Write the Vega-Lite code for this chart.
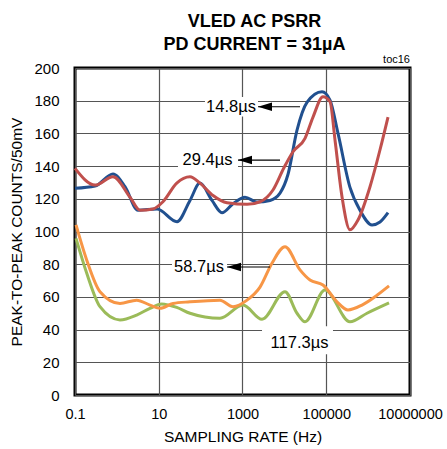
{
  "$schema": "https://vega.github.io/schema/vega-lite/v6.json",
  "width": 335,
  "height": 327,
  "autosize": {"type": "none"},
  "padding": {"left": 75, "top": 68, "right": 37, "bottom": 54},
  "background": "white",
  "config": {
    "view": {"stroke": "black", "strokeWidth": 3},
    "font": "Liberation Sans, Arial, sans-serif"
  },
  "title": {
    "text": ["VLED AC PSRR", "PD CURRENT = 31µA"],
    "fontSize": 18,
    "font": "Liberation Sans, Arial, sans-serif",
    "fontWeight": "bold",
    "color": "black",
    "anchor": "middle",
    "dx": 12,
    "offset": 0,
    "lineHeight": 23
  },
  "datasets": {
    "curves": [
      {"series": "14.8µs", "x": 0.1, "y": 126.4},
      {"series": "14.8µs", "x": 0.301, "y": 127.8},
      {"series": "14.8µs", "x": 0.808, "y": 135.2},
      {"series": "14.8µs", "x": 1.563, "y": 127.4},
      {"series": "14.8µs", "x": 3.19, "y": 113},
      {"series": "14.8µs", "x": 9.08, "y": 113.8},
      {"series": "14.8µs", "x": 27.3, "y": 106},
      {"series": "14.8µs", "x": 55.7, "y": 119},
      {"series": "14.8µs", "x": 96.6, "y": 129.6},
      {"series": "14.8µs", "x": 187, "y": 119},
      {"series": "14.8µs", "x": 324, "y": 111.5},
      {"series": "14.8µs", "x": 593, "y": 117},
      {"series": "14.8µs", "x": 1148, "y": 121},
      {"series": "14.8µs", "x": 2218, "y": 118},
      {"series": "14.8µs", "x": 4539, "y": 119},
      {"series": "14.8µs", "x": 7870, "y": 123.5},
      {"series": "14.8µs", "x": 12220, "y": 135},
      {"series": "14.8µs", "x": 20040, "y": 162},
      {"series": "14.8µs", "x": 34670, "y": 179},
      {"series": "14.8µs", "x": 79250, "y": 185.5},
      {"series": "14.8µs", "x": 123000, "y": 180.4},
      {"series": "14.8µs", "x": 191000, "y": 160},
      {"series": "14.8µs", "x": 368900, "y": 127},
      {"series": "14.8µs", "x": 639700, "y": 113},
      {"series": "14.8µs", "x": 1239000, "y": 104},
      {"series": "14.8µs", "x": 1923000, "y": 105.8},
      {"series": "14.8µs", "x": 2985000, "y": 111.5},

      {"series": "29.4µs", "x": 0.1, "y": 138.6},
      {"series": "29.4µs", "x": 0.301, "y": 128.4},
      {"series": "29.4µs", "x": 0.808, "y": 133.5},
      {"series": "29.4µs", "x": 2.056, "y": 121},
      {"series": "29.4µs", "x": 3.56, "y": 113},
      {"series": "29.4µs", "x": 7.29, "y": 113.8},
      {"series": "29.4µs", "x": 12.6, "y": 118.2},
      {"series": "29.4µs", "x": 26.9, "y": 129.6},
      {"series": "29.4µs", "x": 55.7, "y": 133.5},
      {"series": "29.4µs", "x": 96.6, "y": 129.6},
      {"series": "29.4µs", "x": 198, "y": 122},
      {"series": "29.4µs", "x": 427, "y": 117.6},
      {"series": "29.4µs", "x": 1282, "y": 116.6},
      {"series": "29.4µs", "x": 2618, "y": 118.2},
      {"series": "29.4µs", "x": 5346, "y": 125.4},
      {"series": "29.4µs", "x": 9770, "y": 139},
      {"series": "29.4µs", "x": 16070, "y": 148.8},
      {"series": "29.4µs", "x": 31120, "y": 157},
      {"series": "29.4µs", "x": 48310, "y": 170},
      {"series": "29.4µs", "x": 83560, "y": 182.4},
      {"series": "29.4µs", "x": 123000, "y": 179.4},
      {"series": "29.4µs", "x": 161800, "y": 156},
      {"series": "29.4µs", "x": 237700, "y": 121.3},
      {"series": "29.4µs", "x": 368900, "y": 101},
      {"series": "29.4µs", "x": 572800, "y": 107},
      {"series": "29.4µs", "x": 1109000, "y": 127.4},
      {"series": "29.4µs", "x": 1923000, "y": 150},
      {"series": "29.4µs", "x": 2985000, "y": 170},

      {"series": "117.3µs", "x": 0.1057, "y": 95.8},
      {"series": "117.3µs", "x": 0.19, "y": 74.6},
      {"series": "117.3µs", "x": 0.395, "y": 54},
      {"series": "117.3µs", "x": 1.187, "y": 45.9},
      {"series": "117.3µs", "x": 2.97, "y": 48.9},
      {"series": "117.3µs", "x": 6.18, "y": 53},
      {"series": "117.3µs", "x": 11.7, "y": 55.7},
      {"series": "117.3µs", "x": 26.9, "y": 53.6},
      {"series": "117.3µs", "x": 55.7, "y": 50},
      {"series": "117.3µs", "x": 290, "y": 46.9},
      {"series": "117.3µs", "x": 1028, "y": 55},
      {"series": "117.3µs", "x": 2924, "y": 46.3},
      {"series": "117.3µs", "x": 10350, "y": 63.2},
      {"series": "117.3µs", "x": 20040, "y": 50},
      {"series": "117.3µs", "x": 31120, "y": 44.8},
      {"series": "117.3µs", "x": 93330, "y": 64.2},
      {"series": "117.3µs", "x": 368900, "y": 44.8},
      {"series": "117.3µs", "x": 939700, "y": 50},
      {"series": "117.3µs", "x": 3155000, "y": 56.3},

      {"series": "58.7µs", "x": 0.1057, "y": 104},
      {"series": "58.7µs", "x": 0.19, "y": 82.6},
      {"series": "58.7µs", "x": 0.395, "y": 63.2},
      {"series": "58.7µs", "x": 1.187, "y": 56},
      {"series": "58.7µs", "x": 2.97, "y": 58},
      {"series": "58.7µs", "x": 6.18, "y": 55},
      {"series": "58.7µs", "x": 10.7, "y": 53},
      {"series": "58.7µs", "x": 21.9, "y": 56},
      {"series": "58.7µs", "x": 55.7, "y": 57},
      {"series": "58.7µs", "x": 290, "y": 58},
      {"series": "58.7µs", "x": 593, "y": 54},
      {"series": "58.7µs", "x": 1282, "y": 58},
      {"series": "58.7µs", "x": 2618, "y": 66},
      {"series": "58.7µs", "x": 5058, "y": 80.6},
      {"series": "58.7µs", "x": 10350, "y": 90.7},
      {"series": "58.7µs", "x": 23600, "y": 76.5},
      {"series": "58.7µs", "x": 40930, "y": 70.3},
      {"series": "58.7µs", "x": 83560, "y": 67.3},
      {"series": "58.7µs", "x": 180700, "y": 57},
      {"series": "58.7µs", "x": 330400, "y": 52},
      {"series": "58.7µs", "x": 714500, "y": 55},
      {"series": "58.7µs", "x": 1629000, "y": 61},
      {"series": "58.7µs", "x": 3155000, "y": 66.7}
    ],
    "boxes": [
      {"x": 127, "x2": 2344, "y": 170.3, "y2": 182.3},
      {"x": 28.8, "x2": 781, "y": 137.7, "y2": 149.7},
      {"x": 20.7, "x2": 427, "y": 72.3, "y2": 84.3},
      {"x": 2924, "x2": 144900, "y": 25, "y2": 42}
    ],
    "arrows": [
      {"x": 2344, "x2": 23600, "y": 176.3},
      {"x": 781, "x2": 7870, "y": 143.7},
      {"x": 427, "x2": 4539, "y": 78.3}
    ],
    "labels": [
      {"x": 531, "y": 176.3, "label": "14.8µs"},
      {"x": 146, "y": 143.7, "label": "29.4µs"},
      {"x": 91.4, "y": 78.3, "label": "58.7µs"},
      {"x": 22960, "y": 31.8, "label": "117.3µs"}
    ],
    "tag": [
      {"x": 10000000, "y": 200, "label": "toc16"}
    ]
  },
  "encoding": {
    "x": {
      "field": "x",
      "type": "quantitative",
      "title": "SAMPLING RATE (Hz)",
      "scale": {"type": "log", "domain": [0.1, 10000000], "nice": false},
      "axis": {
        "values": [0.1, 10, 1000, 100000, 10000000],
        "labelExpr": "datum.value < 1 ? '0.1' : format(datum.value, 'd')",
        "ticks": false,
        "domain": false,
        "grid": true,
        "gridColor": "#555555",
        "gridWidth": 1.2,
        "gridOpacity": 1,
        "labelFontSize": 14.5,
        "labelColor": "black",
        "labelPadding": 12,
        "labelFlush": false,
        "labelOverlap": false,
        "titleFontSize": 15.5,
        "titleFontWeight": "normal",
        "titleColor": "black",
        "titlePadding": 9
      }
    },
    "y": {
      "field": "y",
      "type": "quantitative",
      "title": "PEAK-TO-PEAK COUNTS/50mV",
      "scale": {"domain": [0, 200], "nice": false},
      "axis": {
        "values": [0, 20, 40, 60, 80, 100, 120, 140, 160, 180, 200],
        "ticks": false,
        "domain": false,
        "grid": true,
        "gridColor": "#555555",
        "gridWidth": 1.2,
        "gridOpacity": 1,
        "labelFontSize": 15,
        "labelColor": "black",
        "labelPadding": 16,
        "labelOverlap": false,
        "titleFontSize": 15.5,
        "titleFontWeight": "normal",
        "titleColor": "black",
        "titlePadding": 9
      }
    }
  },
  "layer": [
    {
      "data": {"name": "boxes"},
      "mark": {"type": "rect", "fill": "white", "stroke": null},
      "encoding": {
        "x2": {"field": "x2"},
        "y2": {"field": "y2"}
      }
    },
    {
      "data": {"name": "curves"},
      "mark": {"type": "line", "interpolate": "monotone", "strokeWidth": 3},
      "encoding": {
        "color": {
          "field": "series",
          "type": "nominal",
          "scale": {
            "domain": ["14.8µs", "29.4µs", "117.3µs", "58.7µs"],
            "range": ["#21508f", "#c0504d", "#9bbb59", "#f79646"]
          },
          "legend": null
        }
      }
    },
    {
      "data": {"name": "arrows"},
      "mark": {"type": "rule", "color": "black", "strokeWidth": 1.2},
      "encoding": {
        "x2": {"field": "x2"}
      }
    },
    {
      "data": {"name": "arrows"},
      "mark": {"type": "point", "shape": "M0,0L2,-0.6L2,0.6Z", "filled": true, "color": "black", "size": 196, "opacity": 1},
      "encoding": {}
    },
    {
      "data": {"name": "labels"},
      "mark": {"type": "text", "fontSize": 16.5, "align": "center", "baseline": "middle", "color": "black"},
      "encoding": {
        "text": {"field": "label"}
      }
    },
    {
      "data": {"name": "tag"},
      "mark": {"type": "text", "fontSize": 11, "align": "right", "baseline": "bottom", "dy": -3, "color": "black"},
      "encoding": {
        "text": {"field": "label"}
      }
    }
  ]
}
